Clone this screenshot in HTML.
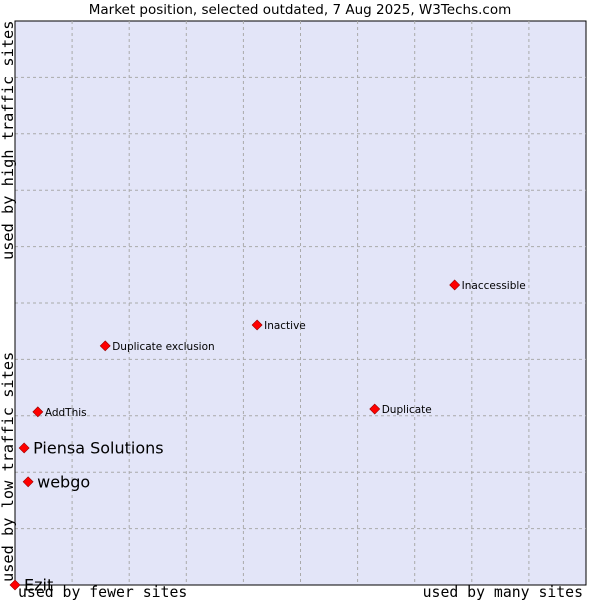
<!DOCTYPE html>
<html><head><meta charset="utf-8"><style>
body{margin:0;background:#fff;}
svg{display:block;font-family:"DejaVu Sans","Liberation Sans",sans-serif;}
</style></head><body>
<svg id="chart" width="600" height="600">
<text x="300" y="14" text-anchor="middle" font-size="13.5">Market position, selected outdated, 7 Aug 2025, W3Techs.com</text>
<rect x="15" y="21" width="571" height="564" fill="#e3e5f8" stroke="#000" stroke-width="1"/>
<g id="grid"></g>
<line x1="15" y1="585" x2="586" y2="585" stroke="#000"/>
<line x1="15" y1="21" x2="15" y2="585" stroke="#000"/>
<g id="points"></g>
<text x="18" y="597" font-family="DejaVu Sans Mono,monospace" font-size="14.8">used by fewer sites</text>
<text x="583" y="597" text-anchor="end" font-family="DejaVu Sans Mono,monospace" font-size="14.8">used by many sites</text>
<text transform="translate(13,582) rotate(-90)" font-family="DejaVu Sans Mono,monospace" font-size="15.3">used by low traffic sites</text>
<text transform="translate(13,260) rotate(-90)" font-family="DejaVu Sans Mono,monospace" font-size="15.3">used by high traffic sites</text>
</svg>
<script>
const names=["Ezit","webgo","Piensa Solutions","AddThis","Duplicate exclusion","Inactive","Duplicate","Inaccessible"];
const xVals=[0,2.3,1.6,4.0,15.8,42.4,63.0,77.0];
const yVals=[0,18.3,24.3,30.7,42.4,46.1,31.2,53.2];
const bigLabel=[true,true,true,false,false,false,false,false];
const NS="http://www.w3.org/2000/svg";
const L=15,R=586,T=21,B=585;
function sx(v){return L+v/100*(R-L);}
function sy(v){return B-v/100*(B-T);}
const grid=document.getElementById('grid');
for(let i=1;i<10;i++){
  const x=L+i*(R-L)/10, y=T+i*(B-T)/10;
  const a=document.createElementNS(NS,'line');
  a.setAttribute('x1',x);a.setAttribute('x2',x);a.setAttribute('y1',T);a.setAttribute('y2',B);
  a.setAttribute('stroke','#aaa');a.setAttribute('stroke-dasharray','3,3');
  
  
  grid.appendChild(a);
  const b=document.createElementNS(NS,'line');
  b.setAttribute('y1',y);b.setAttribute('y2',y);b.setAttribute('x1',L);b.setAttribute('x2',R);
  b.setAttribute('stroke','#aaa');b.setAttribute('stroke-dasharray','3,3');
  
  
  grid.appendChild(b);
}
const pts=document.getElementById('points');
names.forEach((n,i)=>{
  const x=sx(xVals[i]),y=sy(yVals[i]);
  const p=document.createElementNS(NS,'polygon');
  p.setAttribute('points',`${x},${y-5} ${x+5},${y} ${x},${y+5} ${x-5},${y}`);
  p.setAttribute('fill','#f00');
  p.setAttribute('stroke','#900');
  p.setAttribute('stroke-width','0.6');
  
  
  pts.appendChild(p);
  const t=document.createElementNS(NS,'text');
  t.setAttribute('x',x+(bigLabel[i]?9:7));
  t.setAttribute('y',y+(bigLabel[i]?5.5:4));
  t.setAttribute('font-size',bigLabel[i]?16:10.5);
  t.textContent=n;
  
  
  pts.appendChild(t);
});
</script>
</body></html>
